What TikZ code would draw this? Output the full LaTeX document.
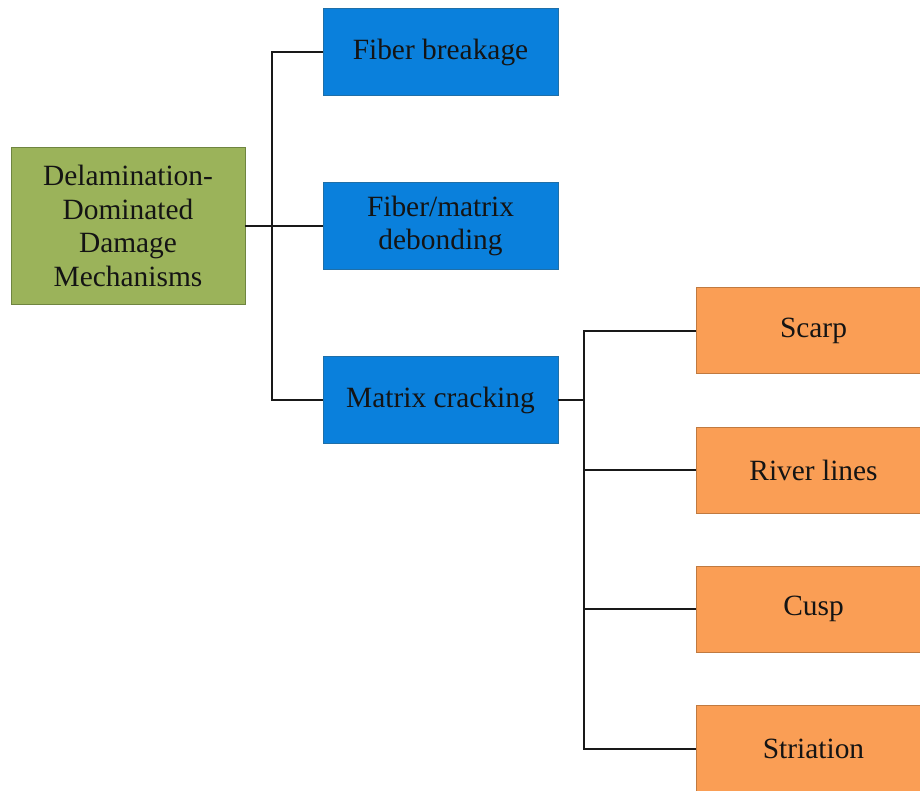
\documentclass[tikz,border=0pt]{standalone}
\usepackage{fontspec}
\setmainfont{Liberation Serif}
\definecolor{boxgreen}{HTML}{9BB35A}
\definecolor{greenedge}{HTML}{6F8540}
\definecolor{boxblue}{HTML}{0A80DC}
\definecolor{blueedge}{HTML}{1F6FA8}
\definecolor{boxorange}{HTML}{FA9E55}
\definecolor{orangeedge}{HTML}{C07A40}
\definecolor{txt}{HTML}{141414}
\tikzset{
  base/.style={rectangle, draw, line width=0.9pt, inner sep=0pt, text=txt,
    font=\fontsize{29.4}{33.5}\selectfont, align=center},
  gbox/.style={base, fill=boxgreen, draw=greenedge, minimum width=234pt, minimum height=157pt},
  bbox/.style={base, fill=boxblue, draw=blueedge, minimum width=235pt, minimum height=87pt},
  obox/.style={base, fill=boxorange, draw=orangeedge, minimum width=235pt, minimum height=86pt},
  conn/.style={draw=black!90, line width=2pt}
}
\begin{document}
\begin{tikzpicture}[x=1pt,y=-1pt]
\useasboundingbox (0,0) rectangle (920,791);
\clip (0,0) rectangle (920,791);
\node[gbox] (g) at (128,226) {Delamination-\\Dominated\\Damage\\Mechanisms};
\node[bbox] (b1) at (440.5,52) {Fiber breakage};
\node[bbox] (b2) at (440.5,226) {Fiber/matrix\\debonding};
\node[bbox] (b3) at (440.5,400) {Matrix cracking};
\node[obox] (o1) at (813.5,330.5) {Scarp};
\node[obox] (o2) at (813.5,470) {River lines};
\node[obox] (o3) at (813.5,609) {Cusp};
\node[obox] (o4) at (813.5,748.5) {Striation};
\coordinate (t1) at (272,226);
\coordinate (t2) at (584,400);
\draw[conn] (b1.west) -| (t1) |- (b3.west);
\draw[conn] (g.east) -- (b2.west);
\draw[conn] (b3.east) -- (t2);
\draw[conn] (o1.west) -| (t2) |- (o4.west);
\draw[conn] (t2 |- o2.west) -- (o2.west);
\draw[conn] (t2 |- o3.west) -- (o3.west);
\end{tikzpicture}
\end{document}
